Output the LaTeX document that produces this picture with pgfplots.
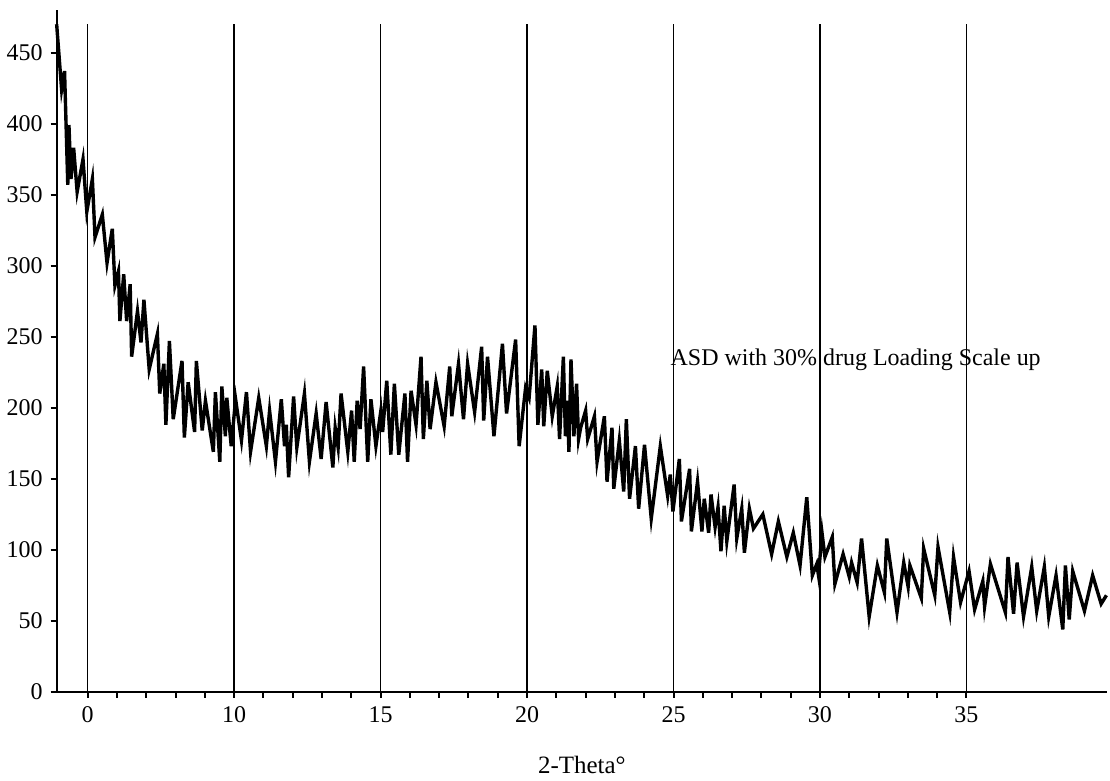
\documentclass[border=0pt]{standalone}
\usepackage{fontspec}
\setmainfont{Liberation Serif}
\usepackage{pgfplots}
\pgfplotsset{compat=1.18}
\begin{document}
\begin{tikzpicture}
\begin{axis}[name=ax,
  scale only axis, width=526pt, height=341.5pt,
  xmin=3.94, xmax=39.8, ymin=0, ymax=480,
  axis x line=bottom, axis y line=left,
  axis line style={-, line width=1pt},
  xtick={5,10,15,20,25,30,35},
  xticklabels={0,10,15,20,25,30,35},
  minor x tick num=4,
  ytick={0,50,...,450},
  tick align=outside,
  major tick length=3pt, minor tick length=3pt,
  tick style={line width=1pt, black},
  /pgf/number format/assume math mode=true,
  ticklabel style={font=\fontsize{12}{14}\selectfont},
  yticklabel style={xshift=-0.5pt},
  xticklabel style={yshift=-1pt},
  xlabel={2-Theta°},
  xlabel style={at={(axis description cs:0.5,0)}, anchor=center, yshift=-36.5pt, font=\fontsize{12.5}{14}\selectfont},
  clip=false,
]
\addplot[ycomb, line width=0.7pt, black, mark=none] coordinates {
(5,470) (10,470) (15,470) (20,470) (25,470) (30,470) (35,470)
};
\addplot[black, line width=1.7pt, line join=miter, mark=none] coordinates {
(3.94,470) (4.11,424) (4.21,437) (4.32,357) (4.36,399) (4.43,361) (4.52,383)
(4.64,352) (4.84,375) (4.97,338) (5.16,361) (5.25,320) (5.50,336) (5.66,302)
(5.84,326) (5.93,286) (6.05,296) (6.10,261) (6.23,294) (6.33,261) (6.45,287)
(6.50,236) (6.70,268) (6.82,246) (6.92,276) (7.10,227) (7.38,252) (7.46,210)
(7.60,231) (7.67,188) (7.79,247) (7.92,192) (8.22,233) (8.30,179) (8.43,218)
(8.65,183) (8.71,233) (8.91,184) (9.02,205) (9.29,169) (9.36,211) (9.51,162)
(9.58,215) (9.70,180) (9.75,207) (9.90,173) (10.05,206) (10.25,177) (10.42,211)
(10.56,169) (10.84,207) (11.10,173) (11.21,198) (11.41,162) (11.61,206) (11.72,173)
(11.78,188) (11.86,151) (12.03,208) (12.14,172) (12.40,210) (12.57,162) (12.80,196)
(12.97,164) (13.14,204) (13.37,158) (13.45,186) (13.55,172) (13.65,210) (13.88,169)
(14.01,198) (14.10,162) (14.20,205) (14.30,185) (14.42,229) (14.56,162) (14.67,206)
(14.84,173) (15.01,198) (15.07,183) (15.21,219) (15.35,167) (15.47,217) (15.62,167)
(15.83,210) (15.92,162) (16.04,212) (16.21,188) (16.38,236) (16.46,178) (16.58,219)
(16.69,185) (16.89,218) (17.17,187) (17.36,229) (17.43,194) (17.66,231) (17.83,192)
(17.97,231) (18.21,197) (18.45,243) (18.52,191) (18.65,236) (18.87,180) (19.16,245)
(19.30,196) (19.61,248) (19.73,173) (19.95,214) (20.07,207) (20.27,258) (20.37,188)
(20.50,227) (20.57,187) (20.69,226) (20.86,194) (21.03,215) (21.11,178) (21.24,236)
(21.31,180) (21.37,205) (21.43,169) (21.50,234) (21.60,180) (21.69,217) (21.76,178)
(21.83,186) (22.00,198) (22.07,178) (22.30,194) (22.39,162) (22.64,194) (22.73,148)
(22.90,186) (22.96,143) (23.15,177) (23.30,141) (23.39,192) (23.50,136) (23.70,173)
(23.81,129) (24.01,174) (24.24,122) (24.55,173) (24.80,138) (24.89,153) (24.98,127)
(25.20,164) (25.27,120) (25.55,157) (25.61,113) (25.82,148) (25.97,113) (26.05,136)
(26.20,112) (26.28,139) (26.42,116) (26.52,130) (26.62,99) (26.73,131) (26.82,106)
(27.07,146) (27.16,108) (27.33,129) (27.42,98) (27.59,129) (27.73,115) (28.05,125)
(28.35,97) (28.58,120) (28.87,95) (29.09,112) (29.32,89) (29.55,137) (29.74,82)
(29.89,90) (29.95,82) (30.07,112) (30.17,95) (30.42,109) (30.51,76) (30.79,97)
(31.00,81) (31.08,91) (31.27,77) (31.42,108) (31.68,53) (31.96,89) (32.20,70)
(32.28,108) (32.63,56) (32.86,91) (33.01,74) (33.07,89) (33.46,66) (33.54,101)
(33.92,68) (34.03,102) (34.43,56) (34.56,95) (34.80,63) (35.09,85) (35.28,58)
(35.56,78) (35.62,60) (35.82,90) (36.33,56) (36.42,95) (36.61,55) (36.73,91)
(36.95,53) (37.23,88) (37.40,57) (37.66,88) (37.81,53) (38.06,82) (38.29,44)
(38.38,89) (38.51,51) (38.63,85) (39.03,57) (39.31,82) (39.60,62) (39.78,68)
};
\node[anchor=west, inner sep=0pt, font=\fontsize{12}{14}\selectfont] at (axis cs:24.89,233.5) {ASD with 30\% drug Loading Scale up};
\end{axis}
\path (ax.south west) ++(-27.5pt,-44pt) coordinate (bl);
\path (ax.north east) ++(1.5pt,5pt) coordinate (tr);
\path (bl) rectangle (tr);
\end{tikzpicture}
\end{document}
